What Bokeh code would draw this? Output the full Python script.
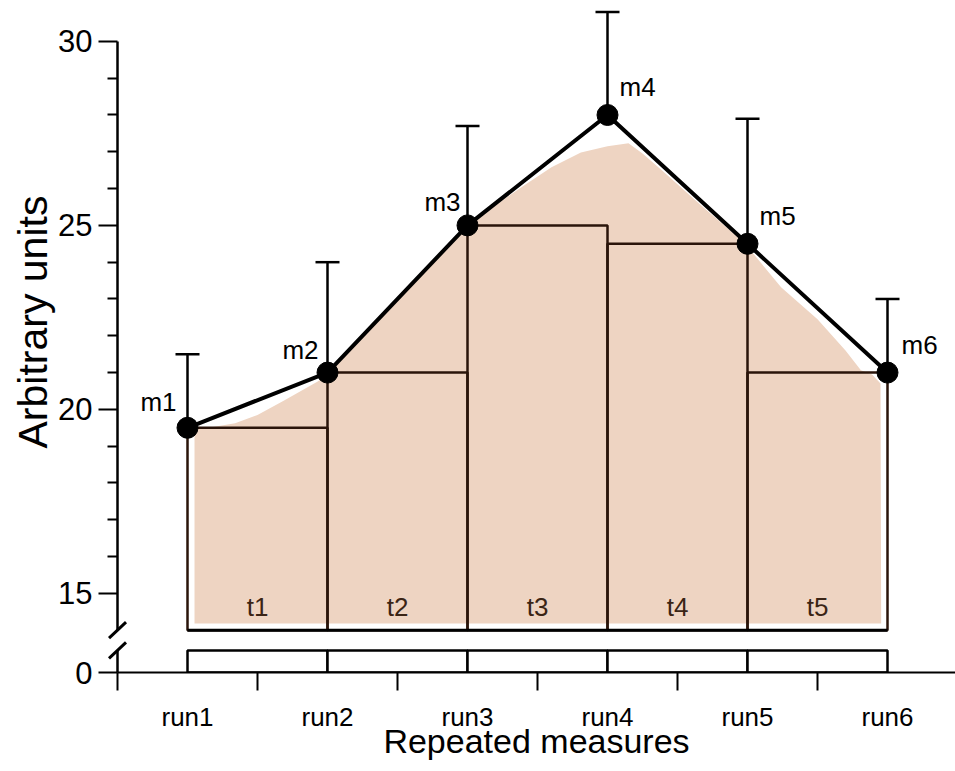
from bokeh.plotting import figure
from bokeh.models import Range1d, FixedTicker, Title, ColumnDataSource
from bokeh.core.properties import value
from bokeh.embed import file_html
from bokeh.resources import INLINE

# ---------------- data ----------------
runs = ["run1", "run2", "run3", "run4", "run5", "run6"]
run_pos = [1, 2, 3, 4, 5, 6]
mean_labels = ["m1", "m2", "m3", "m4", "m5", "m6"]
means = [19.5, 21.0, 25.0, 28.0, 24.5, 21.0]
err_upper = [21.5, 24.0, 27.7, 30.8, 27.9, 23.0]
interval_labels = ["t1", "t2", "t3", "t4", "t5"]
interval_base = 14.0
# smooth envelope (shaded area)
envelope_x = [1.05, 1.05, 1.15, 1.34, 1.5, 1.69, 1.93, 2.0, 3.0, 3.2, 3.39, 3.6, 3.81,
              4.0, 4.15, 4.25, 4.39, 4.67, 4.94, 5.0, 5.24, 5.5, 5.7, 5.81, 5.89, 5.95, 5.955]
envelope_y = [14.18, 19.45, 19.5, 19.62, 19.85, 20.24, 20.76, 20.95, 24.97, 25.55, 26.05, 26.58, 26.98,
              27.15, 27.23, 26.95, 26.49, 25.54, 24.65, 24.42, 23.32, 22.45, 21.6, 21.06, 20.95, 20.7, 14.18]
# broken y axis: value 0 is drawn at this position below the break
ZERO_POS = 12.85
strip_height = 0.6
y_tick_values = [ZERO_POS, 15, 20, 25, 30]
y_tick_labels = ["0", "15", "20", "25", "30"]
y_minor = [16, 17, 18, 19, 21, 22, 23, 24, 26, 27, 28, 29]
x_minor = [0.5, 1.5, 2.5, 3.5, 4.5, 5.5]

# ---------------- styles / layout ----------------
FONT = "Liberation Sans"
FILL = "#EED4C2"
OUTLINE = "#2a140a"
label_dx = [-11, -9, -7, 12, 12, 14]
label_dy = [-26, -23, -23, -28, -28, -28]
PX_PER_Y = 36.8
PX_PER_X = 140.0
W, H = 955, 771
LEFT, BOTTOM = 117, 99

p = figure(width=W, height=H, output_backend="svg", toolbar_location=None,
           x_range=Range1d(0.5, 0.5 + (W - LEFT) / PX_PER_X),
           y_range=Range1d(ZERO_POS, ZERO_POS + (H - BOTTOM) / PX_PER_Y),
           min_border_left=LEFT, min_border_right=0, min_border_top=0, min_border_bottom=BOTTOM)
p.grid.visible = False
p.outline_line_color = None
p.background_fill_color = "white"

# axes
xa = p.xaxis[0]
xa.ticker = FixedTicker(ticks=run_pos, minor_ticks=x_minor)
xa.major_label_overrides = {k: v for k, v in zip(run_pos, runs)}
xa.major_tick_out = 0
xa.major_tick_in = 0
xa.minor_tick_out = 18
xa.minor_tick_in = 0
xa.minor_tick_line_width = 2
xa.minor_tick_line_color = "black"
xa.axis_line_width = 2
xa.axis_line_color = "black"
xa.major_label_text_font = FONT
xa.major_label_text_font_size = "26px"
xa.major_label_text_color = "black"
xa.major_label_standoff = 11
xa.axis_label = "Repeated measures"
xa.axis_label_text_font = FONT
xa.axis_label_text_font_size = "34px"
xa.axis_label_text_font_style = "normal"
xa.axis_label_text_color = "black"
xa.axis_label_standoff = -13

ya = p.yaxis[0]
ya.ticker = FixedTicker(ticks=y_tick_values, minor_ticks=y_minor)
ya.major_label_overrides = {k: v for k, v in zip(y_tick_values, y_tick_labels)}
ya.axis_line_color = None
ya.major_tick_out = 19
ya.major_tick_in = 0
ya.minor_tick_out = 10
ya.minor_tick_in = 0
ya.major_tick_line_width = 2
ya.minor_tick_line_width = 2
ya.major_label_text_font = FONT
ya.major_label_text_font_size = "31px"
ya.major_label_text_color = "black"
ya.major_label_standoff = 6

p.add_layout(Title(text="Arbitrary units", align="left", text_font=FONT,
                   text_font_size="41px", text_font_style="normal", text_color="black",
                   offset=224, standoff=0), "left")

# broken y-axis line
sx = 17 / PX_PER_X / 2
sy = 16 / PX_PER_Y / 2
brk_hi = interval_base
brk_lo = ZERO_POS + strip_height
p.segment(x0=[0.5, 0.5], y0=[brk_hi, ZERO_POS], x1=[0.5, 0.5], y1=[30, brk_lo],
          line_color="black", line_width=2.5, level="annotation")
p.segment(x0=[0.5 - sx, 0.5 - sx], y0=[brk_hi - sy, brk_lo - sy],
          x1=[0.5 + sx, 0.5 + sx], y1=[brk_hi + sy, brk_lo + sy],
          line_color="black", line_width=3, level="annotation")

# shaded envelope
p.patch(envelope_x, envelope_y, fill_color=FILL, line_color=None)

# interval rectangles
tops = [min(means[i], means[i + 1]) for i in range(5)]
lefts = run_pos[:-1]
rights = run_pos[1:]
rect_src = ColumnDataSource(dict(left=lefts, right=rights, top=tops,
                                 bottom=[interval_base] * 5, label=interval_labels,
                                 mid=[(a + b) / 2 for a, b in zip(lefts, rights)]))
p.quad(left="left", right="right", top="top", bottom="bottom", source=rect_src,
       fill_color=None, line_color=OUTLINE, line_width=2.5)
p.segment(x0=[run_pos[0]], y0=[interval_base], x1=[run_pos[-1]], y1=[interval_base],
          line_color="black", line_width=3)
p.text(x="mid", y="bottom", text="label", source=rect_src, text_font=value(FONT),
       text_font_size="26px", text_color="#3a2415", text_align="center",
       text_baseline="middle", y_offset=-23)

# strip below the break
p.quad(left=lefts, right=rights, top=[ZERO_POS + strip_height] * 5, bottom=[ZERO_POS] * 5,
       fill_color="white", line_color="black", line_width=2.5)

# mean polyline
p.line(run_pos, means, line_color="black", line_width=4)

# error bars (upper)
p.segment(x0=run_pos, y0=means, x1=run_pos, y1=err_upper, line_color="black", line_width=2.5)
p.scatter(run_pos, err_upper, marker="dash", size=24, line_color="black", line_width=2.5)

# points
p.scatter(run_pos, means, size=21, fill_color="black", line_color="black")

# labels
for idxs, align in (([0, 1, 2], "right"), ([3, 4, 5], "left")):
    src = ColumnDataSource(dict(x=[run_pos[i] for i in idxs], y=[means[i] for i in idxs],
                                t=[mean_labels[i] for i in idxs],
                                dx=[label_dx[i] for i in idxs], dy=[label_dy[i] for i in idxs]))
    p.text(x="x", y="y", text="t", source=src, x_offset="dx", y_offset="dy",
           text_font=value(FONT), text_font_size="26px", text_color="black",
           text_align=align, text_baseline="middle")

open("out.html", "w").write(file_html(p, INLINE))
